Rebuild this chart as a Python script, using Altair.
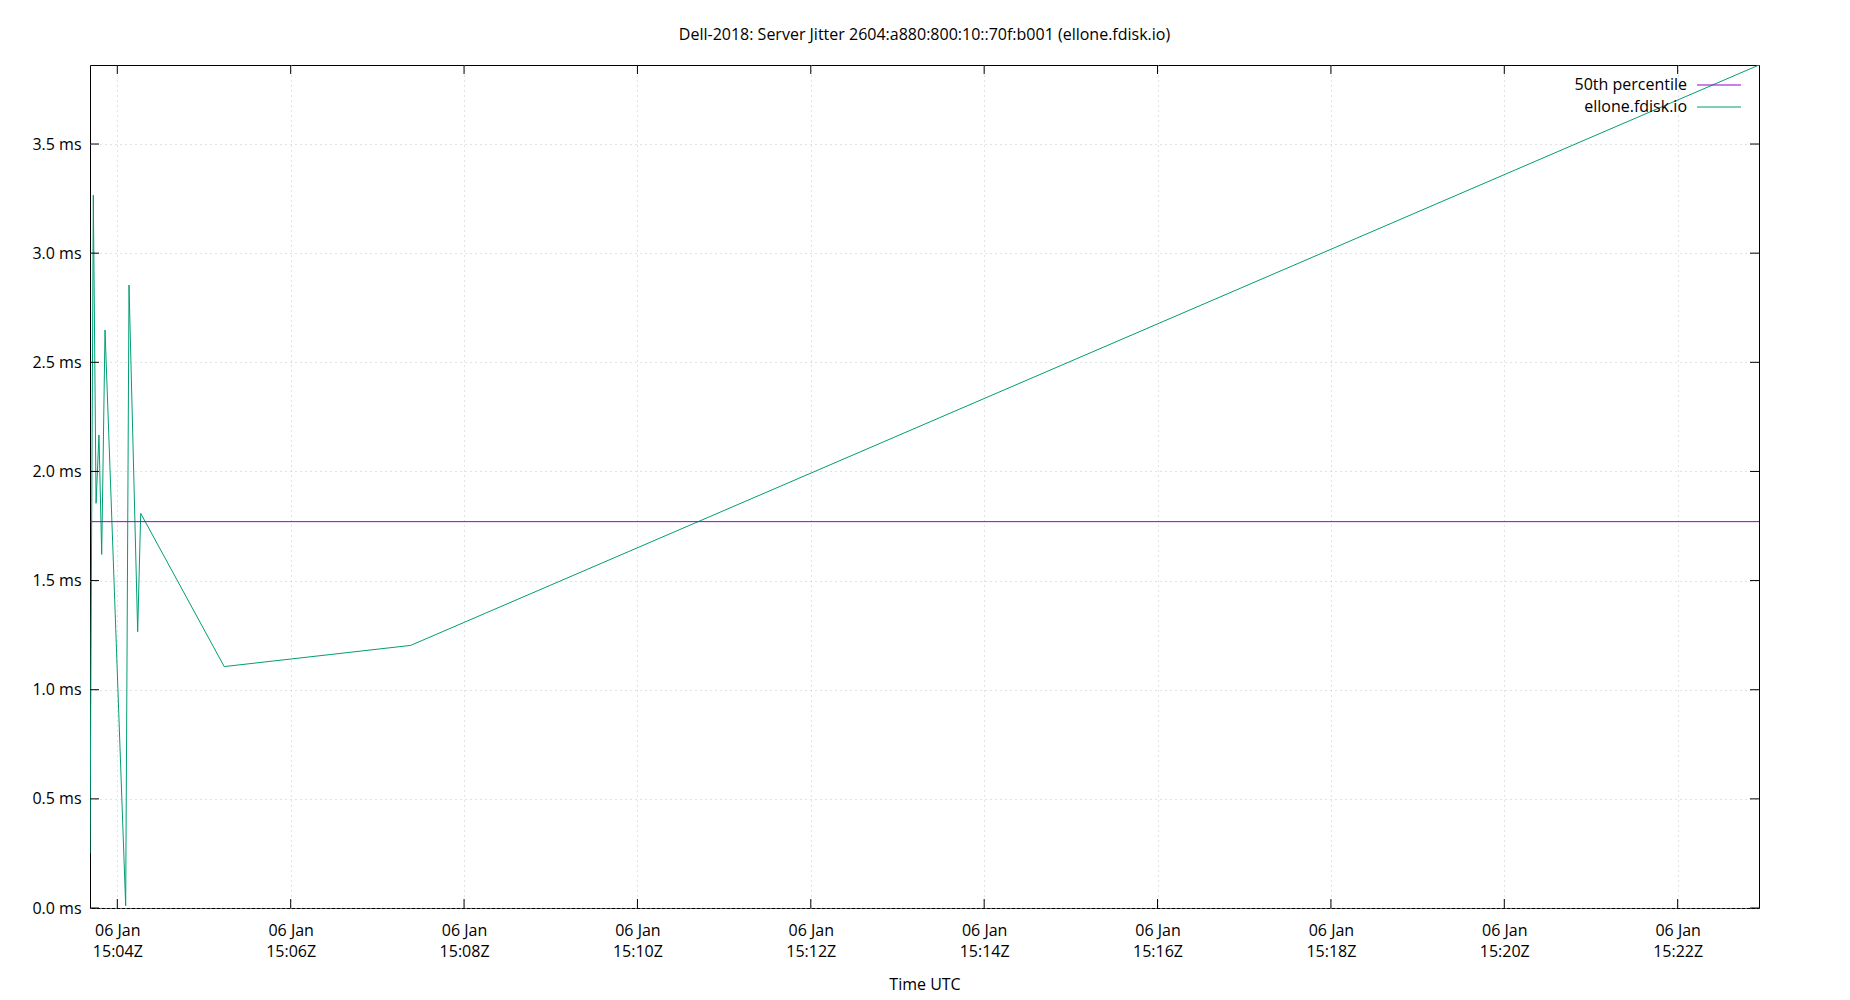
import altair as alt
import pandas as pd

# ---- data ----
times = [
    "2020-01-06T15:03:41.100Z", "2020-01-06T15:03:43.400Z", "2020-01-06T15:03:45.300Z",
    "2020-01-06T15:03:47.300Z", "2020-01-06T15:03:49.200Z", "2020-01-06T15:03:51.500Z",
    "2020-01-06T15:04:05.800Z", "2020-01-06T15:04:08.100Z", "2020-01-06T15:04:14.100Z",
    "2020-01-06T15:04:16.200Z", "2020-01-06T15:05:14.000Z", "2020-01-06T15:07:23.000Z",
    "2020-01-06T15:22:56.300Z",
]
jitter_ms = [0.25, 3.266, 1.854, 2.167, 1.62, 2.648, 0.01, 2.854, 1.266, 1.808, 1.106, 1.203, 3.862]
p50_ms = [1.77]
y_ticks = [0.0, 0.5, 1.0, 1.5, 2.0, 2.5, 3.0, 3.5]
x_ticks = ["2020-01-06T15:%02d:00Z" % m for m in [4, 6, 8, 10, 12, 14, 16, 18, 20, 22]]
series_names = ["50th percentile", "ellone.fdisk.io"]
title_text = "Dell-2018: Server Jitter 2604:a880:800:10::70f:b001 (ellone.fdisk.io)"
x_title = "Time UTC"

# ---- styles ----
W, H = 1669, 843
FONT = "Open Sans"
FS = 16
PURPLE = "#9400d3"
GREEN = "#009e73"
GRID = "#c4c4c4"

df = pd.DataFrame({"t": times, "v": jitter_ms})
df_p50 = pd.DataFrame({"v": p50_ms})
df_yt = pd.DataFrame({"v": y_ticks})
df_xt = pd.DataFrame({"t": x_ticks})

xscale = alt.Scale(type="utc", domain=[times[0], times[-1]], nice=False)
yscale = alt.Scale(domain=[0, jitter_ms[-1]], nice=False)

x_axis = alt.Axis(values=x_ticks, grid=True, ticks=False, domain=False,
                  labelExpr="[utcFormat(datum.value, '%d %b'), utcFormat(datum.value, '%H:%MZ')]",
                  labelLineHeight=21, labelPadding=14, labelFlush=False,
                  titleY=76, titleBaseline="middle")
y_axis = alt.Axis(values=y_ticks, grid=True, ticks=False, domain=False,
                  labelExpr="format(datum.value, '.1f') + ' ms'",
                  labelPadding=9, labelFlush=False)

def X(field="t"):
    return alt.X(f"{field}:T", scale=xscale, title=x_title, axis=x_axis)

def Y(field="v"):
    return alt.Y(f"{field}:Q", scale=yscale, title=None, axis=y_axis)

line = alt.Chart(df).mark_line(color=GREEN, strokeWidth=1, clip=True).encode(x=X(), y=Y())

p50 = alt.Chart(df_p50).mark_rule(color=PURPLE, strokeWidth=1).encode(y=Y())

ytick_l = alt.Chart(df_yt).mark_rule(color="black").encode(y=Y(), x=alt.value(0), x2=alt.value(9))
ytick_r = alt.Chart(df_yt).mark_rule(color="black").encode(y=Y(), x=alt.value(W - 9), x2=alt.value(W))
xtick_b = alt.Chart(df_xt).mark_rule(color="black").encode(x=X(), y=alt.value(H - 9), y2=alt.value(H))
xtick_t = alt.Chart(df_xt).mark_rule(color="black").encode(x=X(), y=alt.value(0), y2=alt.value(9))

def legend_entry(i, color, ypix):
    txt = alt.Chart(pd.DataFrame({"name": [series_names[i]]})).mark_text(
        align="right", baseline="middle", font=FONT, fontSize=FS, color="black"
    ).encode(text="name:N", x=alt.value(W - 72), y=alt.value(ypix))
    smp = alt.Chart(pd.DataFrame({"name": [series_names[i]]})).mark_rule(
        color=color, strokeWidth=1
    ).encode(x=alt.value(W - 62), x2=alt.value(W - 18), y=alt.value(ypix))
    return txt + smp

chart = alt.layer(
    line, p50, ytick_l, ytick_r, xtick_b, xtick_t,
    legend_entry(0, PURPLE, 20), legend_entry(1, GREEN, 42),
).properties(
    width=W, height=H,
    title=alt.TitleParams(title_text, anchor="middle", font=FONT, fontSize=FS,
                          fontWeight="normal", color="black", offset=22),
    autosize=alt.AutoSizeParams(type="none"),
    padding={"left": 82, "top": 57, "right": 70, "bottom": 92},
).configure_view(
    stroke="black", strokeWidth=1
).configure_axis(
    labelFont=FONT, labelFontSize=FS, labelColor="black",
    titleFont=FONT, titleFontSize=FS, titleColor="black", titleFontWeight="normal",
    gridColor=GRID, gridDash=[1, 4], gridWidth=1,
)

chart.save("out.html", embed_options={"renderer": "svg", "actions": False})
